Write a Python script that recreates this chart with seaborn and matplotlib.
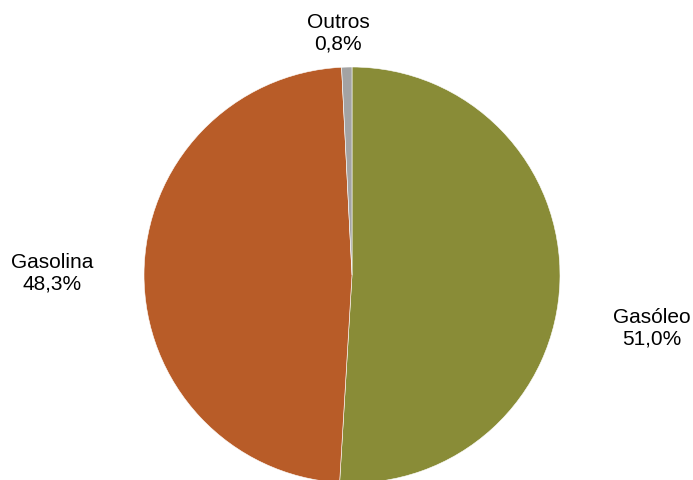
import matplotlib
matplotlib.use("Agg")
from matplotlib import pyplot as plt
import seaborn as sns

# data
categories = ["Gasóleo", "Gasolina", "Outros"]
shares = [51.0, 48.3, 0.8]
share_labels = ["51,0%", "48,3%", "0,8%"]
colors = ["#898C37", "#B85C28", "#A3A3A3"]

sns.set_style("white")
plt.rcParams['font.family'] = ['Liberation Sans', 'DejaVu Sans']

fig = plt.figure(figsize=(6.93, 4.80), dpi=100)
ax = fig.add_axes([0, 0, 1, 1])

wedges, _ = ax.pie(shares, colors=colors, startangle=90, counterclock=False,
                   center=(352, 205), radius=208, frame=True,
                   wedgeprops=dict(edgecolor='white', linewidth=0.4))
ax.set_xlim(0, 693)
ax.set_ylim(0, 480)
ax.axis('off')

# label positions (pixel coords, y up)
label_pos = [(652, 152), (52, 207), (338, 447)]
for name, lab, (x, y) in zip(categories, share_labels, label_pos):
    ax.text(x, y, f"{name}\n{lab}", ha='center', va='center',
            fontsize=15, color='black', linespacing=1.15)

fig.savefig("out.png", dpi=100)
